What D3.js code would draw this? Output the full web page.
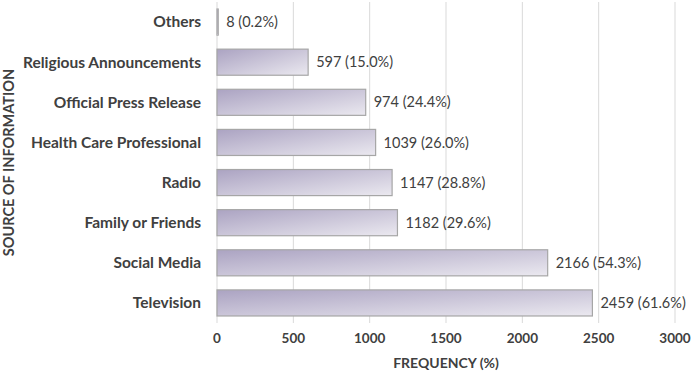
<!DOCTYPE html>
<html>
<head>
<meta charset="utf-8">
<script src="https://cdn.jsdelivr.net/npm/d3@7"></script>
<style>
  body { margin: 0; background: #fff; }
  text { font-family: Lato, "Open Sans", sans-serif; }
</style>
</head>
<body>
<svg width="692" height="375"></svg>
<script>
// Data
const sources = ["Others", "Religious Announcements", "Official Press Release", "Health Care Professional",
                 "Radio", "Family or Friends", "Social Media", "Television"];
const counts = [8, 597, 974, 1039, 1147, 1182, 2166, 2459];
const percents = ["0.2", "15.0", "24.4", "26.0", "28.8", "29.6", "54.3", "61.6"];
const xTicks = [0, 500, 1000, 1500, 2000, 2500, 3000];

const data = sources.map((s, i) => ({source: s, count: counts[i], pct: percents[i]}));

const margin = {top: 2, right: 17, bottom: 52, left: 217};
const width = 692 - margin.left - margin.right,
      height = 375 - margin.top - margin.bottom;

const svg = d3.select("svg");

// gradient for bars
const defs = svg.append("defs");
const grad = defs.append("linearGradient")
    .attr("id", "barGrad")
    .attr("x1", "0%").attr("y1", "0%")
    .attr("x2", "100%").attr("y2", "100%");
grad.append("stop").attr("offset", "0%").attr("stop-color", "#aba3c2");
grad.append("stop").attr("offset", "100%").attr("stop-color", "#ebe9f0");

const g = svg.append("g")
    .attr("transform", `translate(${margin.left},${margin.top})`);

const x = d3.scaleLinear().domain([0, 3000]).range([0, width]);
const y = d3.scaleBand().domain(sources).range([0, height]).paddingInner(0.35).paddingOuter(0.175);

// gridlines
g.selectAll(".grid")
    .data(xTicks)
    .join("line")
    .attr("x1", d => x(d)).attr("x2", d => x(d))
    .attr("y1", 0).attr("y2", height)
    .attr("stroke", "#d9d9d9")
    .attr("stroke-width", 1);

// x tick labels
g.selectAll(".tick-label")
    .data(xTicks)
    .join("text")
    .attr("x", d => x(d))
    .attr("y", height + 20)
    .attr("text-anchor", "middle")
    .style("font-size", "13.5px")
    .style("font-weight", "bold")
    .style("fill", "#404040")
    .text(d => d);

// bars
g.selectAll(".bar")
    .data(data)
    .join("rect")
    .attr("x", 0)
    .attr("y", d => y(d.source))
    .attr("width", d => Math.max(1, x(d.count)))
    .attr("height", y.bandwidth())
    .attr("fill", "url(#barGrad)")
    .attr("stroke", "#a6a6a6")
    .attr("stroke-width", 1.2);

// value labels
g.selectAll(".val")
    .data(data)
    .join("text")
    .attr("x", d => x(d.count) + 8)
    .attr("y", d => y(d.source) + y.bandwidth() / 2)
    .attr("dy", "0.35em")
    .style("font-size", "14.5px")
    .style("fill", "#404040")
    .text(d => `${d.count} (${d.pct}%)`);

// category labels
g.selectAll(".cat")
    .data(sources)
    .join("text")
    .attr("x", -16)
    .attr("y", d => y(d) + y.bandwidth() / 2)
    .attr("dy", "0.35em")
    .attr("text-anchor", "end")
    .style("font-size", "15.5px")
    .style("font-weight", "bold")
    .style("fill", "#404040")
    .text(d => d);

// axis titles
g.append("text")
    .attr("x", width / 2)
    .attr("y", height + 45)
    .attr("text-anchor", "middle")
    .style("font-size", "14px")
    .style("font-weight", "bold")
    .style("fill", "#404040")
    .text("FREQUENCY (%)");

svg.append("text")
    .attr("transform", `translate(14,${margin.top + height / 2}) rotate(-90)`)
    .attr("text-anchor", "middle")
    .style("font-size", "14.5px")
    .style("font-weight", "bold")
    .style("fill", "#404040")
    .text("SOURCE OF INFORMATION");
</script>
</body>
</html>
